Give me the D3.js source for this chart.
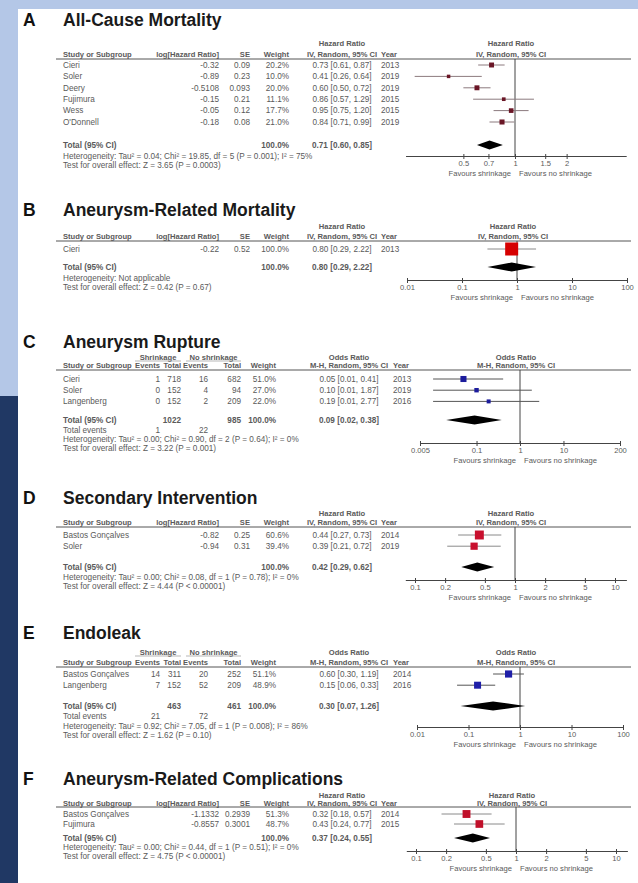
<!DOCTYPE html>
<html>
<head>
<meta charset="utf-8">
<script src="https://cdn.jsdelivr.net/npm/d3@7"></script>
<style>
  html, body { margin: 0; padding: 0; background: #fff; }
  svg { display: block; }
</style>
</head>
<body>
<svg id="fig" width="638" height="883"></svg>
<script>
// ---------- A: all-cause mortality (generic inverse variance, hazard ratios) ----------
const aStudies = ["Cieri", "Soler", "Deery", "Fujimura", "Wess", "O'Donnell"];
const aYears   = [2013, 2019, 2019, 2015, 2015, 2019];
const aLogHR   = [-0.32, -0.89, -0.5108, -0.15, -0.05, -0.18];
const aSE      = [0.09, 0.23, 0.093, 0.21, 0.12, 0.08];
const aWeight  = [20.2, 10.0, 20.0, 11.1, 17.7, 21.0];
const aHR      = [0.73, 0.41, 0.60, 0.86, 0.95, 0.84];
const aLow     = [0.61, 0.26, 0.50, 0.57, 0.75, 0.71];
const aHigh    = [0.87, 0.64, 0.72, 1.29, 1.20, 0.99];
const aPooled  = [0.71, 0.60, 0.85];
const aTicks   = [0.5, 0.7, 1, 1.5, 2];
const aExtent  = [0.23, 4.45];

// ---------- B: aneurysm-related mortality ----------
const bStudies = ["Cieri"];
const bYears   = [2013];
const bLogHR   = [-0.22];
const bSE      = [0.52];
const bWeight  = [100.0];
const bHR      = [0.80];
const bLow     = [0.29];
const bHigh    = [2.22];
const bPooled  = [0.80, 0.29, 2.22];
const bTicks   = [0.01, 0.1, 1, 10, 100];
const bExtent  = [0.01, 100];

// ---------- C: aneurysm rupture (Mantel-Haenszel, odds ratios) ----------
const cStudies = ["Cieri", "Soler", "Langenberg"];
const cYears   = [2013, 2019, 2016];
const cEvents1 = [1, 0, 0];
const cTotal1  = [718, 152, 152];
const cEvents2 = [16, 4, 2];
const cTotal2  = [682, 94, 209];
const cWeight  = [51.0, 27.0, 22.0];
const cOR      = [0.05, 0.10, 0.19];
const cLow     = [0.01, 0.01, 0.01];
const cHigh    = [0.41, 1.87, 2.77];
const cPooled  = [0.09, 0.02, 0.38];
const cTicks   = [0.005, 0.1, 1, 10, 200];
const cExtent  = [0.005, 200];

// ---------- D: secondary intervention ----------
const dStudies = ["Bastos Gonçalves", "Soler"];
const dYears   = [2014, 2019];
const dLogHR   = [-0.82, -0.94];
const dSE      = [0.25, 0.31];
const dWeight  = [60.6, 39.4];
const dHR      = [0.44, 0.39];
const dLow     = [0.27, 0.21];
const dHigh    = [0.73, 0.72];
const dPooled  = [0.42, 0.29, 0.62];
const dTicks   = [0.1, 0.2, 0.5, 1, 2, 5, 10];
const dExtent  = [0.08, 13];

// ---------- E: endoleak ----------
const eStudies = ["Bastos Gonçalves", "Langenberg"];
const eYears   = [2014, 2016];
const eEvents1 = [14, 7];
const eTotal1  = [311, 152];
const eEvents2 = [20, 52];
const eTotal2  = [252, 209];
const eWeight  = [51.1, 48.9];
const eOR      = [0.60, 0.15];
const eLow     = [0.30, 0.06];
const eHigh    = [1.19, 0.33];
const ePooled  = [0.30, 0.07, 1.26];
const eTicks   = [0.01, 0.1, 1, 10, 100];
const eExtent  = [0.01, 100];

// ---------- F: aneurysm-related complications ----------
const fStudies = ["Bastos Gonçalves", "Fujimura"];
const fYears   = [2014, 2015];
const fLogHR   = [-1.1332, -0.8557];
const fSE      = [0.2939, 0.3001];
const fWeight  = [51.3, 48.7];
const fHR      = [0.32, 0.43];
const fLow     = [0.18, 0.24];
const fHigh    = [0.57, 0.77];
const fPooled  = [0.37, 0.24, 0.55];
const fTicks   = [0.1, 0.2, 0.5, 1, 2, 5, 10];
const fExtent  = [0.08, 13];

// ---------- drawing ----------
const FONT = "'Liberation Sans', Arial, Helvetica, sans-serif";
const svg = d3.select("#fig").attr("font-family", FONT);

// page backdrop
svg.append("rect").attr("width", 638).attr("height", 883).attr("fill", "#ffffff");
svg.append("rect").attr("x", 0).attr("y", 0).attr("width", 638).attr("height", 9).attr("fill", "#b4c7e7");
svg.append("rect").attr("x", 0).attr("y", 0).attr("width", 18).attr("height", 396).attr("fill", "#b4c7e7");
svg.append("rect").attr("x", 0).attr("y", 396).attr("width", 18).attr("height", 487).attr("fill", "#203864");

const f2 = d3.format(".2f");
const f1 = d3.format(".1f");
const ci = (m, l, h) => `${f2(m)} [${f2(l)}, ${f2(h)}]`;

const BODY = 8.2, HEAD = 7.6;

function txt(g, x, y, s, o = {}) {
  return g.append("text")
    .attr("x", x).attr("y", y).attr("dy", "0.35em")
    .attr("text-anchor", o.anchor || "start")
    .attr("font-size", o.size || BODY)
    .attr("font-weight", o.bold ? "bold" : "normal")
    .attr("fill", o.fill || "#5a5a5a")
    .text(s);
}

function drawPanel(p) {
  const L = p.layout;
  const g = svg.append("g");
  const x = d3.scaleLog()
    .domain(p.extent)
    .range(p.extent.map(v => p.center + p.perDecade * Math.log10(v)));

  // heading
  txt(g, 23, L.title, p.letter, { size: 17.5, bold: true, fill: "#111" });
  txt(g, 63, L.title, p.title, { size: p.titleSize || 17.5, bold: true, fill: "#1a1a1a" });

  // group headers (event tables)
  if (p.groups) {
    p.groups.forEach(gr => {
      txt(g, (gr.x1 + gr.x2) / 2, L.group, gr.label, { anchor: "middle", bold: true, size: HEAD });
      g.append("line").attr("x1", gr.x1).attr("x2", gr.x2)
        .attr("y1", L.group + 4).attr("y2", L.group + 4)
        .attr("stroke", "#9a9a9a").attr("stroke-width", 0.7);
    });
  }

  // column headers
  txt(g, p.ciX, L.measure, p.measure, { anchor: "middle", bold: true, size: HEAD });
  txt(g, x(1) - 4, L.measure, p.measure, { anchor: "middle", bold: true, size: HEAD });
  txt(g, 63, L.head, "Study or Subgroup", { bold: true, size: HEAD });
  p.columns.forEach(c => txt(g, c.x, L.head, c.head, { anchor: "end", bold: true, size: HEAD }));
  txt(g, p.ciX, L.head, p.method, { anchor: "middle", bold: true, size: HEAD });
  txt(g, p.yearX, L.head, "Year", { bold: true, size: HEAD });
  txt(g, x(1) - 4, L.head, p.method, { anchor: "middle", bold: true, size: HEAD });
  g.append("line").attr("x1", 56).attr("x2", 631).attr("y1", L.rule).attr("y2", L.rule)
    .attr("stroke", "#555").attr("stroke-width", 1);

  // study rows
  const rowY = i => L.row0 + i * L.rowStep;
  p.studies.forEach((s, i) => {
    const y = rowY(i);
    txt(g, 63, y, s);
    p.columns.forEach(c => txt(g, c.x, y, c.fmt(c.values[i]), { anchor: "end" }));
    txt(g, p.ciX, y, ci(p.est[i], p.low[i], p.high[i]), { anchor: "middle" });
    txt(g, p.yearX, y, p.years[i]);
  });

  // totals
  txt(g, 63, L.total, "Total (95% CI)", { bold: true });
  p.columns.forEach(c => {
    if (c.total) txt(g, c.x, L.total, c.total, { anchor: "end", bold: true });
  });
  txt(g, p.ciX, L.total, ci(...p.pooled), { anchor: "middle", bold: true });
  if (L.events) {
    txt(g, 63, L.events, "Total events");
    p.columns.filter(c => c.eventSum !== undefined)
      .forEach(c => txt(g, c.x, L.events, c.eventSum, { anchor: "end" }));
  }
  txt(g, 63, L.het, p.het);
  txt(g, 63, L.test, p.test);

  // line of no effect
  g.append("line").attr("x1", x(1)).attr("x2", x(1))
    .attr("y1", L.rule).attr("y2", L.axis)
    .attr("stroke", "#444").attr("stroke-width", 1);

  // confidence intervals and point estimates
  p.studies.forEach((s, i) => {
    const y = rowY(i);
    g.append("line")
      .attr("x1", x(p.low[i])).attr("x2", x(p.high[i]))
      .attr("y1", y).attr("y2", y)
      .attr("stroke", p.ciColor).attr("stroke-width", 1);
    const side = p.markerScale * Math.sqrt(p.weight[i] / 100);
    g.append("rect")
      .attr("x", x(p.est[i]) - side / 2).attr("y", y - side / 2)
      .attr("width", side).attr("height", side)
      .attr("fill", p.markerColor);
  });

  // pooled diamond
  const [pm, pl, ph] = p.pooled;
  const h = 4.5;
  g.append("polygon")
    .attr("points", [[x(pl), L.total], [x(pm), L.total - h], [x(ph), L.total], [x(pm), L.total + h]]
      .map(d => d.join(",")).join(" "))
    .attr("fill", "#000");

  // axis
  const axis = d3.axisBottom(x).tickValues(p.ticks).tickFormat(d => String(d))
    .tickSizeInner(3).tickSizeOuter(0);
  const ag = g.append("g").attr("transform", `translate(0,${L.axis})`).call(axis);
  ag.select(".domain").attr("stroke", "#444");
  ag.selectAll(".tick line").attr("stroke", "#444").attr("y1", -2);
  ag.selectAll(".tick text").attr("font-size", HEAD).attr("fill", "#5a5a5a")
    .attr("font-family", FONT).attr("y", 5);

  txt(g, x(1) - 4, L.axis + 17, "Favours shrinkage", { anchor: "end", size: HEAD });
  txt(g, x(1) + 4, L.axis + 17, "Favours no shrinkage", { size: HEAD });
}

// column definitions
const num = v => String(v);
const pct = v => f1(v) + "%";

function ivColumns(logHR, se, weight) {
  return [
    { head: "log[Hazard Ratio]", x: 219, values: logHR, fmt: num },
    { head: "SE", x: 250, values: se, fmt: num },
    { head: "Weight", x: 289, values: weight, fmt: pct, total: pct(d3.sum(weight)) }
  ];
}
function mhColumns(ev1, tot1, ev2, tot2, weight) {
  return [
    { head: "Events", x: 160, values: ev1, fmt: num, eventSum: d3.sum(ev1) },
    { head: "Total", x: 181, values: tot1, fmt: num, total: String(d3.sum(tot1)) },
    { head: "Events", x: 208, values: ev2, fmt: num, eventSum: d3.sum(ev2) },
    { head: "Total", x: 241, values: tot2, fmt: num, total: String(d3.sum(tot2)) },
    { head: "Weight", x: 276, values: weight, fmt: pct, total: pct(d3.sum(weight)) }
  ];
}
const mhGroups = [
  { label: "Shrinkage", x1: 135, x2: 181 },
  { label: "No shrinkage", x1: 186, x2: 241 }
];

const IV = { measure: "Hazard Ratio", method: "IV, Random, 95% CI", ciX: 342, yearX: 381 };
const MH = { measure: "Odds Ratio", method: "M-H, Random, 95% CI", ciX: 349, yearX: 393 };

drawPanel({
  ...IV, letter: "A", title: "All-Cause Mortality",
  studies: aStudies, years: aYears, columns: ivColumns(aLogHR, aSE, aWeight),
  est: aHR, low: aLow, high: aHigh, weight: aWeight, pooled: aPooled,
  het: "Heterogeneity: Tau² = 0.04; Chi² = 19.85, df = 5 (P = 0.001); I² = 75%",
  test: "Test for overall effect: Z = 3.65 (P = 0.0003)",
  ticks: aTicks, extent: aExtent, center: 515, perDecade: 171.5,
  markerColor: "#6a1626", ciColor: "#8c7a7e", markerScale: 11,
  layout: { title: 20, measure: 43, head: 54, rule: 59, row0: 65, rowStep: 11.4,
            total: 145, het: 156, test: 165, axis: 156 }
});

drawPanel({
  ...IV, letter: "B", title: "Aneurysm-Related Mortality",
  studies: bStudies, years: bYears, columns: ivColumns(bLogHR, bSE, bWeight),
  est: bHR, low: bLow, high: bHigh, weight: bWeight, pooled: bPooled,
  het: "Heterogeneity: Not applicable",
  test: "Test for overall effect: Z = 0.42 (P = 0.67)",
  ticks: bTicks, extent: bExtent, center: 517, perDecade: 55,
  markerColor: "#d60000", ciColor: "#8a8a8a", markerScale: 13,
  layout: { title: 210, measure: 226, head: 236, rule: 241, row0: 249, rowStep: 11.4,
            total: 267, het: 278, test: 287, axis: 280 }
});

drawPanel({
  ...MH, letter: "C", title: "Aneurysm Rupture",
  studies: cStudies, years: cYears,
  columns: mhColumns(cEvents1, cTotal1, cEvents2, cTotal2, cWeight), groups: mhGroups,
  est: cOR, low: cLow, high: cHigh, weight: cWeight, pooled: cPooled,
  het: "Heterogeneity: Tau² = 0.00; Chi² = 0.90, df = 2 (P = 0.64); I² = 0%",
  test: "Test for overall effect: Z = 3.22 (P = 0.001)",
  ticks: cTicks, extent: cExtent, center: 520, perDecade: 43.46,
  markerColor: "#1c1c9c", ciColor: "#555", markerScale: 8.5,
  layout: { title: 342, group: 357, measure: 357, head: 365, rule: 370, row0: 379, rowStep: 11.2,
            total: 420, events: 430, het: 439, test: 448, axis: 443 }
});

drawPanel({
  ...IV, letter: "D", title: "Secondary Intervention",
  studies: dStudies, years: dYears, columns: ivColumns(dLogHR, dSE, dWeight),
  est: dHR, low: dLow, high: dHigh, weight: dWeight, pooled: dPooled,
  het: "Heterogeneity: Tau² = 0.00; Chi² = 0.08, df = 1 (P = 0.78); I² = 0%",
  test: "Test for overall effect: Z = 4.44 (P < 0.00001)",
  ticks: dTicks, extent: dExtent, center: 515, perDecade: 100,
  markerColor: "#c8102e", ciColor: "#8a8a8a", markerScale: 11.5,
  layout: { title: 498, measure: 513, head: 522, rule: 527, row0: 535, rowStep: 11.2,
            total: 567, het: 577, test: 586, axis: 580 }
});

drawPanel({
  ...MH, letter: "E", title: "Endoleak",
  studies: eStudies, years: eYears,
  columns: mhColumns(eEvents1, eTotal1, eEvents2, eTotal2, eWeight), groups: mhGroups,
  est: eOR, low: eLow, high: eHigh, weight: eWeight, pooled: ePooled,
  het: "Heterogeneity: Tau² = 0.92; Chi² = 7.05, df = 1 (P = 0.008); I² = 86%",
  test: "Test for overall effect: Z = 1.62 (P = 0.10)",
  ticks: eTicks, extent: eExtent, center: 520, perDecade: 51.5,
  markerColor: "#1f1fa8", ciColor: "#555", markerScale: 10,
  layout: { title: 633, group: 652, measure: 652, head: 662, rule: 667, row0: 674, rowStep: 11.2,
            total: 706, events: 716, het: 726, test: 735, axis: 727 }
});

drawPanel({
  ...IV, letter: "F", title: "Aneurysm-Related Complications", titleSize: 17.5,
  studies: fStudies, years: fYears, columns: ivColumns(fLogHR, fSE, fWeight),
  est: fHR, low: fLow, high: fHigh, weight: fWeight, pooled: fPooled,
  het: "Heterogeneity: Tau² = 0.00; Chi² = 0.44, df = 1 (P = 0.51); I² = 0%",
  test: "Test for overall effect: Z = 4.75 (P < 0.00001)",
  ticks: fTicks, extent: fExtent, center: 516, perDecade: 100,
  markerColor: "#c0102a", ciColor: "#8a8a8a", markerScale: 11,
  layout: { title: 779, measure: 795, head: 803, rule: 807, row0: 814, rowStep: 10,
            total: 838, het: 847, test: 856, axis: 851 }
});
</script>
</body>
</html>
